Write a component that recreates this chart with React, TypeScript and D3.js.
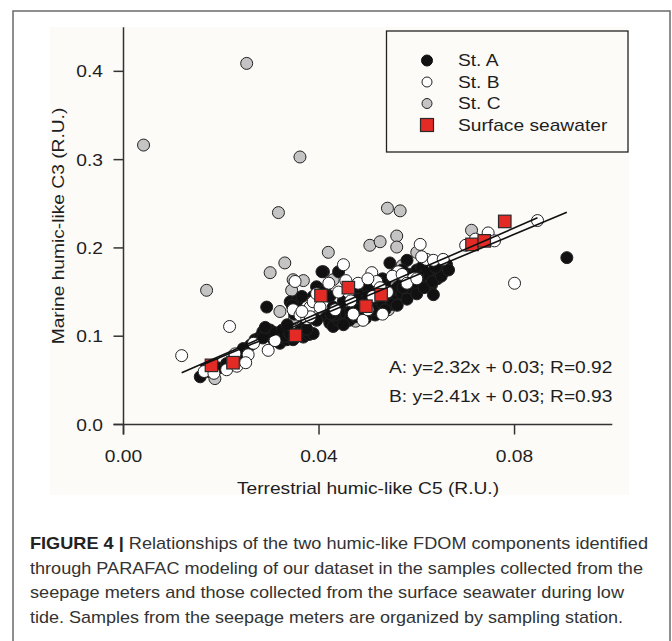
import React from "react";
import * as d3 from "d3";

const stA: [number, number][] = [
  [0.0157, 0.054], [0.0175, 0.06], [0.0195, 0.064], [0.0211, 0.069], [0.0225, 0.074],
  [0.0238, 0.081], [0.0245, 0.086], [0.026, 0.09], [0.0269, 0.096], [0.0279, 0.099],
  [0.0285, 0.105], [0.0293, 0.133], [0.03, 0.107], [0.03, 0.101], [0.0307, 0.096],
  [0.0315, 0.1], [0.032, 0.092], [0.0334, 0.096], [0.0347, 0.096], [0.0355, 0.103],
  [0.0368, 0.099], [0.038, 0.102], [0.0388, 0.103], [0.0341, 0.139], [0.0355, 0.14],
  [0.0395, 0.156], [0.0409, 0.173], [0.0412, 0.152], [0.0422, 0.145], [0.0429, 0.133],
  [0.0416, 0.122], [0.0422, 0.115], [0.0429, 0.111], [0.044, 0.118], [0.0445, 0.13],
  [0.044, 0.173], [0.0406, 0.173], [0.045, 0.14], [0.0455, 0.125], [0.0465, 0.128],
  [0.047, 0.145], [0.0475, 0.135], [0.048, 0.15], [0.0485, 0.125], [0.049, 0.14],
  [0.0495, 0.128], [0.05, 0.155], [0.0505, 0.133], [0.0515, 0.124], [0.052, 0.14],
  [0.0525, 0.15], [0.053, 0.135], [0.0535, 0.16], [0.054, 0.145], [0.0545, 0.183],
  [0.055, 0.15], [0.0555, 0.14], [0.056, 0.155], [0.0565, 0.165], [0.057, 0.148],
  [0.0575, 0.16], [0.058, 0.186], [0.0585, 0.17], [0.059, 0.15], [0.0595, 0.165],
  [0.06, 0.175], [0.0605, 0.16], [0.061, 0.178], [0.0615, 0.165], [0.062, 0.172],
  [0.063, 0.158], [0.0634, 0.147], [0.064, 0.175], [0.065, 0.18], [0.0661, 0.181],
  [0.0655, 0.173], [0.0907, 0.189], [0.0388, 0.145], [0.0372, 0.112], [0.0395, 0.118],
  [0.0432, 0.124], [0.0462, 0.118], [0.0478, 0.142], [0.0512, 0.147], [0.0548, 0.136],
  [0.0572, 0.155], [0.0598, 0.158], [0.0625, 0.168], [0.0642, 0.165],
  [0.0285, 0.098], [0.029, 0.11], [0.031, 0.104], [0.0325, 0.107], [0.033, 0.1],
  [0.034, 0.103], [0.0362, 0.106], [0.0375, 0.108], [0.0335, 0.113], [0.035, 0.125],
  [0.0345, 0.135], [0.0365, 0.145], [0.0425, 0.125], [0.045, 0.113], [0.0475, 0.122],
  [0.0495, 0.12], [0.051, 0.13], [0.0535, 0.13], [0.056, 0.135], [0.058, 0.142],
  [0.06, 0.148], [0.0615, 0.155], [0.0632, 0.162], [0.065, 0.168], [0.0665, 0.175],
  [0.0638, 0.178], [0.057, 0.175], [0.0555, 0.17], [0.053, 0.165], [0.05, 0.145],
  [0.048, 0.13],
];

const stB: [number, number][] = [
  [0.0119, 0.078], [0.0217, 0.111], [0.0165, 0.06], [0.0185, 0.058], [0.0211, 0.062],
  [0.0232, 0.066], [0.0228, 0.08], [0.0255, 0.079], [0.0266, 0.092], [0.0296, 0.084],
  [0.025, 0.07], [0.031, 0.095], [0.0347, 0.13], [0.0361, 0.124], [0.0375, 0.12],
  [0.0382, 0.133], [0.0351, 0.162], [0.0388, 0.139], [0.0402, 0.133], [0.0433, 0.13],
  [0.0382, 0.122], [0.0365, 0.128], [0.045, 0.181], [0.0508, 0.172], [0.0518, 0.162],
  [0.0562, 0.173], [0.0593, 0.166], [0.062, 0.187], [0.0634, 0.186], [0.0654, 0.187],
  [0.0607, 0.204], [0.0746, 0.217], [0.0759, 0.208], [0.0847, 0.231], [0.08, 0.16],
  [0.046, 0.15], [0.047, 0.125], [0.049, 0.118], [0.05, 0.13], [0.051, 0.145],
  [0.053, 0.125], [0.054, 0.15], [0.048, 0.16], [0.0465, 0.14], [0.044, 0.15],
  [0.055, 0.168], [0.057, 0.17], [0.058, 0.16], [0.06, 0.165], [0.061, 0.19],
  [0.07, 0.203], [0.072, 0.21], [0.05, 0.165], [0.0525, 0.155], [0.0455, 0.163],
  [0.042, 0.16], [0.0395, 0.148],
];

const stC: [number, number][] = [
  [0.0041, 0.3165], [0.0252, 0.409], [0.0361, 0.303], [0.0317, 0.24], [0.0419, 0.195],
  [0.017, 0.152], [0.033, 0.183], [0.03, 0.172], [0.0347, 0.164], [0.0368, 0.163],
  [0.0344, 0.152], [0.0187, 0.052], [0.0429, 0.164], [0.054, 0.245], [0.0566, 0.242],
  [0.0504, 0.203], [0.0525, 0.207], [0.0559, 0.2135], [0.0559, 0.201], [0.0712, 0.22],
  [0.0508, 0.128], [0.0542, 0.13], [0.046, 0.119], [0.04, 0.13], [0.057, 0.18],
  [0.0475, 0.117], [0.06, 0.195], [0.032, 0.128], [0.035, 0.12],
];

const seawater: [number, number][] = [
  [0.018, 0.067], [0.0224, 0.07], [0.0352, 0.101], [0.0404, 0.146], [0.046, 0.155],
  [0.0496, 0.134], [0.0527, 0.147], [0.0713, 0.204], [0.0738, 0.208], [0.078, 0.23],
];

const fitA = { slope: 2.32, intercept: 0.03, x0: 0.0157, x1: 0.0907 };
const fitB = { slope: 2.41, intercept: 0.03, x0: 0.0119, x1: 0.0847 };

const xTicks = [0, 0.04, 0.08];
const yTicks = [0, 0.1, 0.2, 0.3, 0.4];
const legendItems = ["St. A", "St. B", "St. C", "Surface seawater"];
const equations = ["A: y=2.32x + 0.03; R=0.92", "B: y=2.41x + 0.03; R=0.93"];
const captionLines = [
  { bold: "FIGURE 4 | ", rest: "Relationships of the two humic-like FDOM components identified", w: 618 },
  { bold: "", rest: "through PARAFAC modeling of our dataset in the samples collected from the", w: 613 },
  { bold: "", rest: "seepage meters and those collected from the surface seawater during low", w: 594 },
  { bold: "", rest: "tide. Samples from the seepage meters are organized by sampling station.", w: 593 },
];

const FONT = "'Liberation Sans', Arial, sans-serif";
const SX = 1.2;

function STxt({ x, y, anchor = "start", children, size = 16, rotate = 0 }: any) {
  return (
    <g transform={`translate(${x},${y}) rotate(${rotate}) scale(${SX},1)`}>
      <text x={0} y={0} textAnchor={anchor} fontSize={size} fontFamily={FONT} fill="#1e1e1e">
        {children}
      </text>
    </g>
  );
}

export default function App() {
  const x = d3.scaleLinear().domain([0, 0.1]).range([123.5, 612.3]);
  const y = d3.scaleLinear().domain([0, 0.45]).range([424.5, 27.2]);
  const r = 6;
  const sq = 12.5;

  const fitPath = (f: typeof fitA) =>
    d3.line<number>().x((d) => x(d)).y((d) => y(f.slope * d + f.intercept))([f.x0, f.x1]) || "";

  const circle = (pts: [number, number][], fill: string, key: string) =>
    pts.map((p, i) => (
      <circle key={key + i} cx={x(p[0])} cy={y(p[1])} r={r} fill={fill} stroke="#222" strokeWidth={1} />
    ));

  const legendY = [60.5, 82, 103.5, 125];

  return (
    <svg width={672} height={641} style={{ position: "absolute", left: 0, top: 0 }}>
      <rect x={0} y={0} width={672} height={641} fill="#fff" />
      <rect x={13} y={11} width={657} height={640} fill="#fff" stroke="#6a6a6a" strokeWidth={1.5} />
      <rect x={50} y={27} width={579} height={468} fill="#fcfbf8" />

      {/* points */}
      <g>{circle(stC, "#c4c4c4", "c")}</g>
      <g>{circle(stA, "#111", "a")}</g>
      <g>{circle(stB, "#fff", "b")}</g>
      <g>
        {seawater.map((p, i) => (
          <rect key={"s" + i} x={x(p[0]) - sq / 2} y={y(p[1]) - sq / 2} width={sq} height={sq} fill="#e32a25" stroke="#2a2a2a" strokeWidth={1.2} />
        ))}
      </g>
      <path d={fitPath(fitA)} stroke="#111" strokeWidth={1.6} fill="none" />
      <path d={fitPath(fitB)} stroke="#111" strokeWidth={1.6} fill="none" />

      {/* axes */}
      <line x1={x(0)} x2={x(0)} y1={y(0.45)} y2={y(0) + 10} stroke="#333" strokeWidth={1.5} />
      <line x1={x(0) - 10} x2={x(0.1)} y1={y(0)} y2={y(0)} stroke="#333" strokeWidth={1.5} />
      {yTicks.map((t) => (
        <g key={"yt" + t}>
          <line x1={x(0) - 10} x2={x(0)} y1={y(t)} y2={y(t)} stroke="#333" strokeWidth={1.5} />
          <STxt x={103} y={y(t) + 6} anchor="end">{t.toFixed(1)}</STxt>
        </g>
      ))}
      {xTicks.map((t) => (
        <g key={"xt" + t}>
          <line x1={x(t)} x2={x(t)} y1={y(0)} y2={y(0) + 10} stroke="#333" strokeWidth={1.5} />
          <STxt x={x(t)} y={462} anchor="middle">{t.toFixed(2)}</STxt>
        </g>
      ))}
      <STxt x={368} y={494} anchor="middle">Terrestrial humic-like C5 (R.U.)</STxt>
      <g transform={`translate(64,226) rotate(-90)`}>
        <text x={0} y={0} textAnchor="middle" fontSize={16} fontFamily={FONT} fill="#1e1e1e" transform={`scale(${SX},1)`}>
          Marine humic-like C3 (R.U.)
        </text>
      </g>

      {/* equations */}
      {equations.map((e, i) => (
        <STxt key={e} x={389} y={373 + i * 28.5}>{e}</STxt>
      ))}

      {/* legend */}
      <rect x={386.5} y={31} width={241.5} height={121} fill="#fcfbf8" stroke="#222" strokeWidth={1.3} />
      {legendItems.map((l, i) => (
        <g key={l}>
          {i === 0 && <circle cx={427} cy={legendY[i]} r={5.5} fill="#111" stroke="#111" />}
          {i === 1 && <circle cx={427} cy={legendY[i]} r={5} fill="#fff" stroke="#222" strokeWidth={1} />}
          {i === 2 && <circle cx={427} cy={legendY[i]} r={5} fill="#c4c4c4" stroke="#222" strokeWidth={1} />}
          {i === 3 && <rect x={427 - 6.5} y={legendY[i] - 6.5} width={13} height={13} fill="#e32a25" stroke="#2a2a2a" strokeWidth={1.2} />}
          <STxt x={458} y={legendY[i] + 5.5}>{l}</STxt>
        </g>
      ))}

      {/* caption */}
      {captionLines.map((c, i) => (
        <text
          key={i}
          x={30}
          y={549 + i * 24.6}
          fontSize={17}
          fontFamily={FONT}
          fill="#333"
          textLength={c.w}
          lengthAdjust="spacingAndGlyphs"
        >
          {c.bold && <tspan fontWeight="bold" fill="#222">FIGURE 4 </tspan>}
          {c.bold && <tspan fontWeight="bold" fill="#222">| </tspan>}
          {c.rest}
        </text>
      ))}
    </svg>
  );
}
